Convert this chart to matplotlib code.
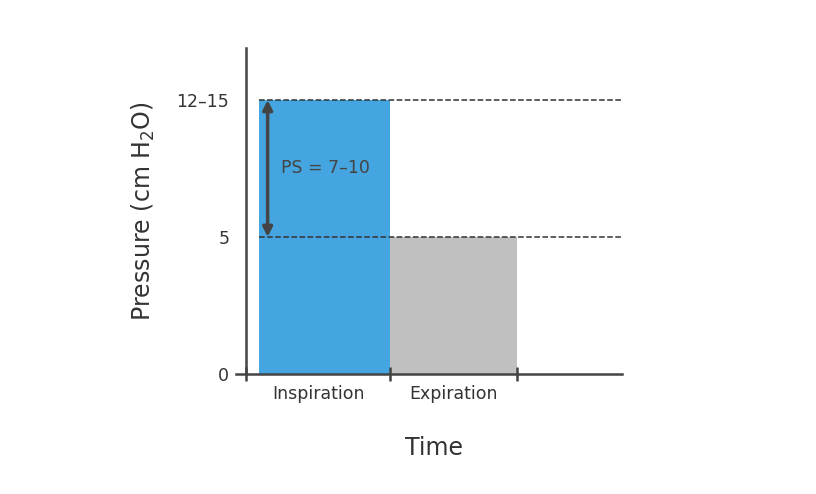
import matplotlib
matplotlib.use("Agg")
import matplotlib.pyplot as plt

# phases along the time axis (arbitrary units)
phases = ["Inspiration", "Expiration"]
starts = [0.09, 1.0]
ends = [1.0, 1.88]
levels = [10, 5]
colors = ["#45a5e0", "#c0c0c0"]
ytick_vals = [0, 5, 10]
ytick_labels = ["0", "5", "12\u201315"]

fig = plt.figure(figsize=(8.16, 4.94), dpi=100)
ax = fig.add_axes([0.3015, 0.243, 0.461, 0.66])

for s, e, h, c in zip(starts, ends, levels, colors):
    ax.bar(s, h, width=e - s, align="edge", color=c, zorder=1)

for h in levels:
    ax.plot([starts[0], 2.61], [h, h], ls="--", color="#333333", lw=1.1, zorder=2)

ax.annotate("", xy=(0.15, 5), xytext=(0.15, 10),
            arrowprops=dict(arrowstyle="<|-|>", color="#444444", lw=2.5,
                            mutation_scale=14, shrinkA=0, shrinkB=0))
ax.text(0.24, 7.5, "PS = 7\u201310", fontsize=12.5, color="#444444", va="center")

ax.set_xlim(0, 2.61)
ax.set_ylim(0, 11.9)
for sp in ["top", "right"]:
    ax.spines[sp].set_visible(False)
for sp in ["left", "bottom"]:
    ax.spines[sp].set_color("#444444")
    ax.spines[sp].set_linewidth(1.8)

ax.set_xticks([0, 1.0, 1.88])
ax.set_xticklabels([])
ax.set_xticks([(s + e) / 2 for s, e in zip([0, 1.0], ends)], minor=True)
ax.set_xticklabels(phases, minor=True, fontsize=12.5, color="#333333")
ax.tick_params(axis="x", which="major", direction="in", length=0)
ax.tick_params(axis="x", which="major", length=10, width=1.8, color="#444444",
               direction="inout")
ax.tick_params(axis="x", which="minor", length=0, pad=8)

ax.set_yticks(ytick_vals)
ax.set_yticklabels(ytick_labels, fontsize=12.5, color="#333333")
ax.tick_params(axis="y", length=0, pad=12)
ax.plot([-0.07, 0], [0, 0], color="#444444", lw=1.8, clip_on=False)

ax.set_ylabel("Pressure (cm H$_2$O)", fontsize=17, color="#333333", labelpad=14)
ax.set_xlabel("Time", fontsize=17, color="#333333", labelpad=24)

fig.savefig("out.png", dpi=100)
